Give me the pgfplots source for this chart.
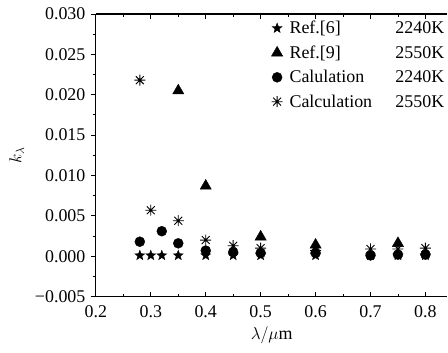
\documentclass[border=0pt]{standalone}
\usepackage{pgfplots}
\pgfplotsset{compat=1.18}
\usepackage{fontspec}
\setmainfont{Liberation Serif}
\usetikzlibrary{plotmarks}
\pgfdeclareplotmark{ast8}{%
  \pgfpathmoveto{\pgfqpoint{0pt}{\pgfplotmarksize}}\pgfpathlineto{\pgfqpoint{0pt}{-\pgfplotmarksize}}%
  \pgfpathmoveto{\pgfqpoint{\pgfplotmarksize}{0pt}}\pgfpathlineto{\pgfqpoint{-\pgfplotmarksize}{0pt}}%
  \pgfpathmoveto{\pgfqpoint{0.72\pgfplotmarksize}{0.72\pgfplotmarksize}}\pgfpathlineto{\pgfqpoint{-0.72\pgfplotmarksize}{-0.72\pgfplotmarksize}}%
  \pgfpathmoveto{\pgfqpoint{-0.72\pgfplotmarksize}{0.72\pgfplotmarksize}}\pgfpathlineto{\pgfqpoint{0.72\pgfplotmarksize}{-0.72\pgfplotmarksize}}%
  \pgfusepathqstroke}
\pgfdeclareplotmark{fstar}{%
  \pgfpathmoveto{\pgfqpointpolar{90}{\pgfplotmarksize}}%
  \pgfpathlineto{\pgfqpointpolar{126}{0.42\pgfplotmarksize}}%
  \pgfpathlineto{\pgfqpointpolar{162}{\pgfplotmarksize}}%
  \pgfpathlineto{\pgfqpointpolar{198}{0.42\pgfplotmarksize}}%
  \pgfpathlineto{\pgfqpointpolar{234}{\pgfplotmarksize}}%
  \pgfpathlineto{\pgfqpointpolar{270}{0.42\pgfplotmarksize}}%
  \pgfpathlineto{\pgfqpointpolar{306}{\pgfplotmarksize}}%
  \pgfpathlineto{\pgfqpointpolar{342}{0.42\pgfplotmarksize}}%
  \pgfpathlineto{\pgfqpointpolar{18}{\pgfplotmarksize}}%
  \pgfpathlineto{\pgfqpointpolar{54}{0.42\pgfplotmarksize}}%
  \pgfpathclose
  \pgfusepathqfillstroke}
\begin{document}
\begin{tikzpicture}
\begin{axis}[
  scale only axis, width=352bp, height=283bp,
  xmin=0.2, xmax=0.84, ymin=-0.005, ymax=0.03,
  axis x line=box, axis y line=left,
  axis line style={-, line width=1.2pt},
  clip=false,
  xtick={0.2,0.3,0.4,0.5,0.6,0.7,0.8},
  xticklabels={0.2,0.3,0.4,0.5,0.6,0.7,0.8},
  ytick={-0.005,0,0.005,0.01,0.015,0.02,0.025,0.03},
  yticklabels={−0.005,0.000,0.005,0.010,0.015,0.020,0.025,0.030},
  scaled y ticks=false, scaled x ticks=false,
  minor x tick num=1, minor y tick num=1,
  xtick align=inside, ytick align=outside,
  major tick length=5bp, minor tick length=3bp,
  tick style={black, line width=0.9pt},
  tick label style={font=\fontsize{18}{20}\selectfont},
  yticklabel style={xshift=-2bp},
  xticklabel style={yshift=-5bp},
  xlabel={$\lambda/\mu$m}, ylabel={$k_\lambda$},
  label style={font=\fontsize{18}{20}\selectfont},
  xlabel style={yshift=-3bp},
  ylabel style={at={(axis description cs:-0.225,0.5)}, anchor=center},
  legend style={at={(rel axis cs:1,1)}, anchor=north east, yshift=-4bp, draw=none, fill=none,
    font=\fontsize{18}{20}\selectfont, row sep=6.5bp, inner sep=1bp,
    nodes={inner sep=2bp}, cells={anchor=west}},
  legend image code/.code={\path[draw=none] (0,0) -- (0.55cm,0); \draw[#1] plot coordinates {(0.18cm,0cm)};},
  only marks,
]
\draw[black, line width=1.2pt] (rel axis cs:0,0) -- (rel axis cs:1,0);
\addplot[black, mark=fstar, mark size=5.2bp] coordinates {
 (0.28,0.0001) (0.30,0.0001) (0.32,0.0001) (0.35,0.0001) (0.40,0.0001)
 (0.45,0.0001) (0.50,0.0001) (0.60,0.0001) (0.70,0.0001) (0.75,0.0001) (0.80,0.0001)};
\addlegendentry{\makebox[106bp][l]{Ref.[6]}2240K}
\addplot[black, mark=triangle*, mark size=6.5bp] coordinates {
 (0.35,0.0205) (0.40,0.0087) (0.50,0.0024) (0.60,0.0014) (0.75,0.0016)};
\addlegendentry{\makebox[106bp][l]{Ref.[9]}2550K}
\addplot[black, mark=*, mark size=5bp] coordinates {
 (0.28,0.0018) (0.32,0.0031) (0.35,0.0016) (0.40,0.0007) (0.45,0.0005)
 (0.50,0.0004) (0.60,0.0004) (0.70,0.0001) (0.75,0.0002) (0.80,0.0002)};
\addlegendentry{\makebox[106bp][l]{Calulation}2240K}
\addplot[black, mark=ast8, mark size=5.5bp, line width=0.9pt] coordinates {
 (0.28,0.0218) (0.30,0.0057) (0.35,0.0044) (0.40,0.0020) (0.45,0.0013)
 (0.50,0.0010) (0.60,0.0007) (0.70,0.0009) (0.75,0.0009) (0.80,0.0010)};
\addlegendentry{\makebox[106bp][l]{Calculation}2550K}
\end{axis}
\path ([xshift=-96bp,yshift=-56bp]current axis.south west);
\path ([yshift=14bp]current axis.north east);
\end{tikzpicture}
\end{document}
